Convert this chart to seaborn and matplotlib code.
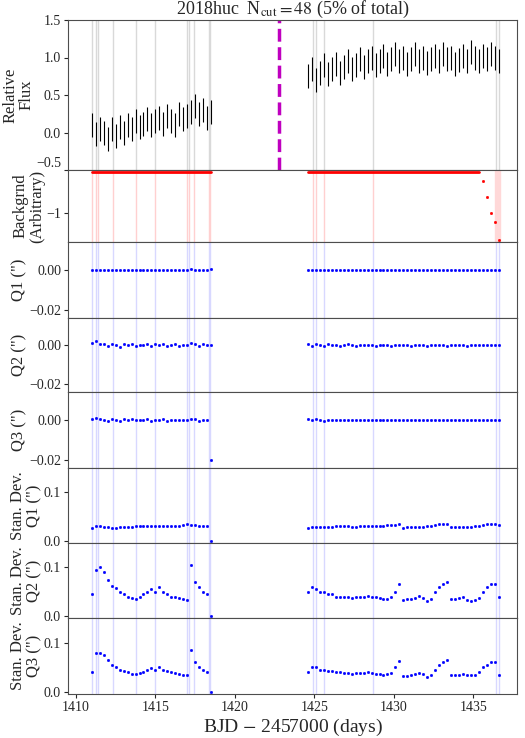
import numpy as np
import pandas as pd
import matplotlib
matplotlib.use("Agg")
import matplotlib.pyplot as plt
import seaborn as sns

sns.set_style("ticks")
plt.rcParams['font.family'] = ['Liberation Serif', 'DejaVu Serif']
plt.rcParams['mathtext.fontset'] = 'stix'

t1 = np.round(1411.0 + 0.25 * np.arange(31), 3)
t2 = np.round(1424.6 + 0.25 * np.arange(49), 3)

flux1 = [0.10,-0.02,0.05,0.00,-0.08,0.05,-0.05,0.08,0.00,0.10,0.05,0.15,0.08,0.12,0.18,0.10,
         0.15,0.20,0.12,0.22,0.15,0.10,0.25,0.18,0.22,0.28,0.35,0.25,0.30,0.20,0.28]
flux2 = [0.75,0.85,0.70,0.80,0.90,0.78,0.85,0.92,0.80,0.88,0.95,0.85,0.90,0.98,0.88,0.95,1.00,
         0.90,0.95,1.02,0.92,0.98,1.05,0.95,1.00,0.92,0.98,1.05,0.95,1.00,0.93,0.98,1.02,0.95,
         1.05,0.98,1.00,0.92,0.97,1.02,0.95,1.08,1.00,0.95,1.02,0.98,1.05,1.00,0.95]
flux_err = 0.16

bkg1 = [-0.5]*31
bkg2 = [-0.5]*44 + [-0.6,-0.8,-1.0,-1.1,-1.32]

q1_1 = [0.0002,0.0,-0.0001,0.0001,0.0,0.0,0.0001,-0.0001,0.0,0.0,0.0001,0.0,0.0,-0.0001,0.0,0.0001,
        0.0,0.0,0.0,0.0001,0.0,-0.0001,0.0,0.0,0.0,0.0003,0.0001,0.0,0.0,0.0,0.0005]
q1_2 = [0.0,0.0001,0.0,0.0,-0.0001,0.0,0.0,0.0001,0.0,0.0,0.0,-0.0001,0.0,0.0,0.0001,0.0,0.0,0.0,
        0.0,-0.0001,0.0,0.0,0.0001,0.0,0.0,0.0,0.0,-0.0001,0.0,0.0,0.0001,0.0,0.0,0.0,0.0,0.0,
        0.0001,0.0,0.0,-0.0001,0.0,0.0,0.0,0.0001,0.0,0.0,0.0,0.0,0.0]
q2_1 = [0.001,0.002,0.0008,0.0005,-0.0005,0.0006,0.0,-0.0008,0.0005,0.0,0.0007,-0.0004,0.0003,0.0,
        0.0006,-0.0006,0.0004,0.0,0.0005,-0.0005,0.0,0.0004,-0.0003,0.0,0.0002,0.001,0.0005,-0.0005,
        0.0004,0.0,0.0003]
q2_2 = [0.0005,-0.0004,0.0006,0.0,-0.0005,0.0004,0.0,0.0003,-0.0003,0.0,0.0004,0.0,-0.0003,0.0003,
        0.0,0.0,0.0003,-0.0002,0.0,0.0003,0.0,-0.0002,0.0,0.0002,0.0,0.0002,-0.0002,0.0,0.0003,0.0,
        -0.0002,0.0,0.0002,0.0,0.0,-0.0002,0.0,0.0002,0.0,0.0,-0.0002,0.0,0.0003,0.0,0.0,0.0002,0.0,
        0.0,0.0]
q3_1 = [0.0005,0.0008,0.0003,0.0,-0.0003,0.0004,0.0,-0.0004,0.0003,0.0,0.0004,-0.0002,0.0002,0.0,
        0.0003,-0.0003,0.0002,0.0,0.0003,-0.0003,0.0,0.0002,-0.0002,0.0,0.0002,0.0006,0.0003,-0.0003,
        0.0002,0.0,-0.02]
q3_2 = [0.0003,-0.0002,0.0003,0.0,-0.0003,0.0002,0.0,0.0002,-0.0002,0.0,0.0002,0.0,-0.0002,0.0002,
        0.0,0.0,0.0002,-0.0001,0.0,0.0002,0.0,-0.0001,0.0,0.0001,0.0,0.0001,-0.0001,0.0,0.0002,0.0,
        -0.0001,0.0,0.0001,0.0,0.0,-0.0001,0.0,0.0001,0.0,0.0,-0.0001,0.0,0.0002,0.0,0.0,0.0001,0.0,
        0.0,0.0]

sd1_1 = [0.027,0.03,0.03,0.029,0.028,0.027,0.027,0.028,0.028,0.029,0.029,0.03,0.03,0.03,0.03,0.031,
         0.031,0.031,0.03,0.031,0.031,0.031,0.031,0.032,0.035,0.033,0.032,0.031,0.031,0.03,0.0]
sd1_2 = [0.027,0.028,0.028,0.028,0.029,0.029,0.029,0.03,0.03,0.031,0.03,0.029,0.029,0.03,0.03,0.03,
         0.031,0.031,0.031,0.031,0.032,0.032,0.033,0.035,
         0.027,0.028,0.028,0.029,0.029,0.029,0.03,0.031,0.033,0.036,0.036,0.035,
         0.028,0.028,0.028,0.029,0.028,0.029,0.03,0.031,0.032,0.034,0.035,0.035,0.033]
sd2_1 = [0.045,0.095,0.1,0.09,0.075,0.062,0.058,0.05,0.045,0.04,0.038,0.035,0.04,0.045,0.05,0.055,
         0.05,0.06,0.05,0.045,0.04,0.04,0.038,0.035,0.033,0.105,0.07,0.06,0.05,0.045,0.0]
sd2_2 = [0.05,0.06,0.055,0.05,0.05,0.045,0.045,0.04,0.04,0.04,0.04,0.038,0.04,0.04,0.04,0.042,0.04,
         0.04,0.038,0.036,0.036,0.04,0.05,0.065,
         0.032,0.035,0.035,0.038,0.042,0.038,0.03,0.035,0.05,0.06,0.065,0.07,
         0.035,0.035,0.038,0.04,0.032,0.03,0.032,0.038,0.05,0.06,0.065,0.065,0.04]
sd3_1 = [0.04,0.08,0.08,0.075,0.065,0.055,0.05,0.045,0.042,0.04,0.037,0.036,0.038,0.04,0.045,0.048,
         0.045,0.05,0.045,0.042,0.04,0.038,0.036,0.035,0.034,0.085,0.06,0.05,0.045,0.04,0.0]
sd3_2 = [0.04,0.05,0.05,0.045,0.045,0.042,0.042,0.04,0.04,0.038,0.038,0.037,0.038,0.038,0.038,0.04,
         0.038,0.037,0.036,0.035,0.036,0.038,0.05,0.062,
         0.032,0.033,0.034,0.036,0.038,0.036,0.03,0.035,0.045,0.055,0.06,0.065,
         0.034,0.034,0.035,0.036,0.035,0.034,0.035,0.04,0.05,0.055,0.06,0.06,0.035]

cut_times = [1411.0,1411.25,1411.4,1412.3,1413.8,1415.0,1417.0,1417.1,1417.4,1418.35,1418.45,
             1424.9,1425.1,1425.6,1428.7,1436.4,1436.6]
boundary = 1422.8

labels = ["Relative\nFlux", "Backgrnd\n(Arbitrary)", 'Q1 (")', 'Q2 (")', 'Q3 (")',
          'Stan. Dev.\nQ1 (")', 'Stan. Dev.\nQ2 (")', 'Stan. Dev.\nQ3 (")']

fig = plt.figure(figsize=(5.25, 7.38), dpi=100)
H = 738.0
edges = [20, 170, 242, 318, 392, 468, 543, 618, 694]
axes = []
for i in range(8):
    top, bot = edges[i], edges[i + 1]
    ax = fig.add_axes([68 / 525, 1 - bot / H, 449 / 525, (bot - top) / H])
    axes.append(ax)

T = np.concatenate([t1, t2])
ax = axes[0]
for tc in cut_times:
    ax.axvline(tc, color='0.85', lw=1, zorder=0)
ax.errorbar(T, flux1 + flux2, yerr=flux_err, fmt='none', ecolor='k', elinewidth=0.8)
ax.axvline(boundary, color='m', ls='--', lw=2.5)
ax.set_ylim(-0.5, 1.5)
ax.set_yticks([-0.5, 0.0, 0.5, 1.0, 1.5])

ax = axes[1]
for tc in cut_times:
    ax.axvline(tc, color='#ffd0d0', lw=1, zorder=0)
ax.axvspan(1436.35, 1436.7, color='#ffd8d8', zorder=0)
sns.lineplot(x=t1, y=bkg1, ax=ax, color='red', lw=2)
sns.lineplot(x=t2[:44], y=bkg2[:44], ax=ax, color='red', lw=2)
sns.scatterplot(x=t2[-5:], y=bkg2[-5:], ax=ax, color='red', s=4, edgecolor=None)
ax.set_ylim(-1.35, -0.47)
ax.set_yticks([-1])

series = [(q1_1, q1_2), (q2_1, q2_2), (q3_1, q3_2), (sd1_1, sd1_2), (sd2_1, sd2_2), (sd3_1, sd3_2)]
for k, (a, b) in enumerate(series):
    ax = axes[2 + k]
    for tc in cut_times:
        ax.axvline(tc, color='#d8d8ff', lw=1, zorder=0)
    sns.scatterplot(x=T, y=a + b, ax=ax, color='blue', s=4, edgecolor=None, marker='o')
    if k < 3:
        ax.set_ylim(-0.024, 0.014)
        ax.set_yticks([-0.02, 0.0])
        ax.set_yticklabels(['\u22120.02', '0.00'])
    else:
        ax.set_ylim(-0.004, 0.15)
        ax.set_yticks([0.0, 0.1])
        ax.set_yticklabels(['0.0', '0.1'])

for i, ax in enumerate(axes):
    ax.set_xlim(1409.5, 1437.75)
    ax.set_ylabel(labels[i], fontsize=12, labelpad=1, linespacing=1.0)
    ax.set_xlabel('')
    ax.tick_params(labelsize=10, length=3, pad=2)
    for sp in ax.spines.values():
        sp.set_color('0.3')
    if i < 7:
        ax.set_xticklabels([])
axes[0].set_yticklabels(['\u22120.5', '0.0', '0.5', '1.0', '1.5'])
axes[0].get_yticklabels()[0].set_va('bottom')
axes[1].set_yticklabels(['\u22121'])
axes[7].set_xticks([1410, 1415, 1420, 1425, 1430, 1435])
axes[7].set_xlabel(r'BJD $-$ 2457000 (days)', fontsize=14, labelpad=2)
axes[0].set_title(r'2018huc  N$_{\rm cut}=48$ (5% of total)', fontsize=13, pad=2)

fig.savefig('out.png', dpi=100)
